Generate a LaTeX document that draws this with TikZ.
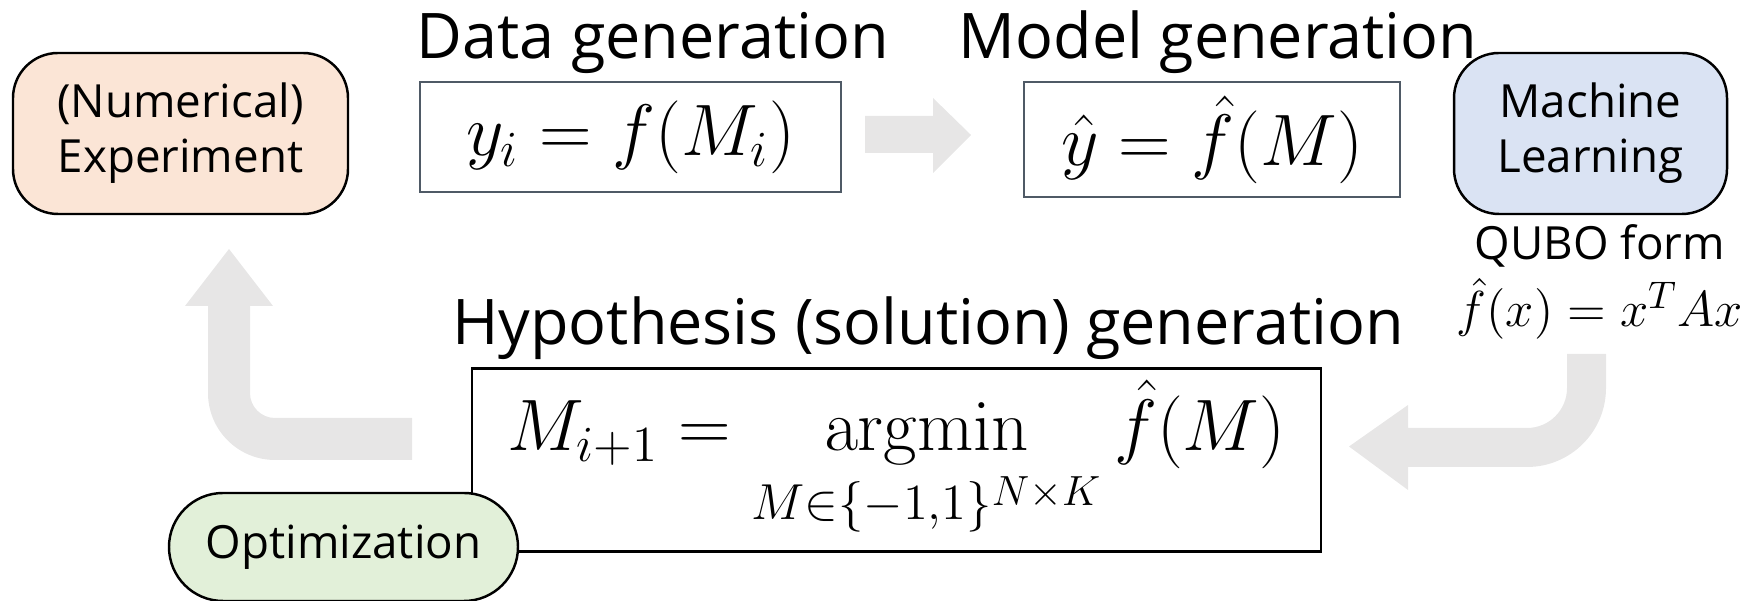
\documentclass[tikz,border=0pt]{standalone}
\usepackage{amsmath,amssymb}
\usepackage[no-math]{fontspec}
\setmainfont{Open Sans}
\usepackage{xcolor}
\usepackage{tikz}
\usetikzlibrary{positioning, calc}
\definecolor{expbg}{HTML}{FBE5D6}
\definecolor{mlbg}{HTML}{DAE3F3}
\definecolor{optbg}{HTML}{E2F0D9}
\definecolor{arrowgray}{HTML}{E7E6E6}
\definecolor{boxframe}{HTML}{4F5A66}

\begin{document}
\begin{tikzpicture}[
  font=\fontsize{13}{15.6}\selectfont,
  stage/.style={rectangle, rounded corners=0.45cm, align=center, draw=black,
                line width=0.7pt, minimum height=1.61cm},
  formbox/.style={rectangle, draw=boxframe, line width=0.8pt, align=center,
                  font=\fontsize{20.74}{25}\selectfont},
  head/.style={font=\fontsize{17.9}{21}\selectfont, anchor=base, inner sep=0pt},
  blockarr/.style={fill=arrowgray, draw=none},
]
\useasboundingbox (0,0) rectangle (17.58,6.01);

%% ── Top row: stages and formula boxes ───────────────────────────────────────
\node[stage, fill=expbg, minimum width=3.35cm] (Exp) at (1.805, 4.675)
    {(Numerical)\\Experiment};
\node[stage, fill=mlbg, minimum width=2.73cm] (ML) at (15.905, 4.675)
    {Machine\\Learning};

\node[formbox, minimum width=4.21cm, minimum height=1.10cm] (Data) at (6.305, 4.64)
    {$y_i = f(M_i)$};
\node[formbox, minimum width=3.76cm, minimum height=1.15cm] (Model) at (12.12, 4.615)
    {$\hat{y} = \hat{f}(M)$};

\node[head] (DataLbl)  at (6.53, 5.42)  {Data generation};
\node[head] (ModelLbl) at (12.18, 5.42) {Model generation};

%% ── QUBO form under the learning stage ──────────────────────────────────────
\node[anchor=base, inner sep=0pt] (Qubo) at (16.0, 3.41) {QUBO form};
\node[anchor=base, inner sep=0pt, font=\fontsize{15.5}{18}\selectfont] (QuboEq)
    at (16.0, 2.74) {$\hat{f}(x) = x^T A x$};

%% ── Bottom row: hypothesis box and optimization ─────────────────────────────
\node[head] (HypLbl) at (9.28, 2.56) {Hypothesis (solution) generation};
\node[formbox, draw=black, minimum width=8.49cm, minimum height=1.76cm] (Hyp)
    at (8.965, 1.41)
    {$\displaystyle M_{i+1} = \operatorname*{argmin}_{M\in\{-1,1\}^{N\times K}} \hat{f}(M)$};
\node[stage, fill=optbg, rounded corners=0.54cm, minimum width=3.49cm,
      minimum height=1.08cm] (Opt) at (3.435, 0.54) {Optimization};

%% ── Gray block arrows ───────────────────────────────────────────────────────
% data -> model
\fill[blockarr] (8.65,4.85) -- (9.33,4.85) -- (9.33,5.03) -- (9.71,4.66)
    -- (9.33,4.28) -- (9.33,4.48) -- (8.65,4.48) -- cycle;
% learning -> hypothesis
\fill[blockarr] (15.67,2.47) -- (15.67,2.13) arc (0:-90:0.40) -- (14.08,1.73)
    -- (14.08,1.96) -- (13.49,1.545) -- (14.08,1.11) -- (14.08,1.34)
    -- (15.27,1.34) arc (-90:0:0.79) -- (16.06,2.47) -- cycle;
% hypothesis -> experiment
\fill[blockarr] (4.12,1.83) -- (2.75,1.83) arc (270:180:0.25) -- (2.50,2.95)
    -- (2.73,2.95) -- (2.29,3.52) -- (1.85,2.95) -- (2.08,2.95)
    -- (2.08,2.08) arc (180:270:0.67) -- (4.12,1.41) -- cycle;

\end{tikzpicture}
\end{document}
